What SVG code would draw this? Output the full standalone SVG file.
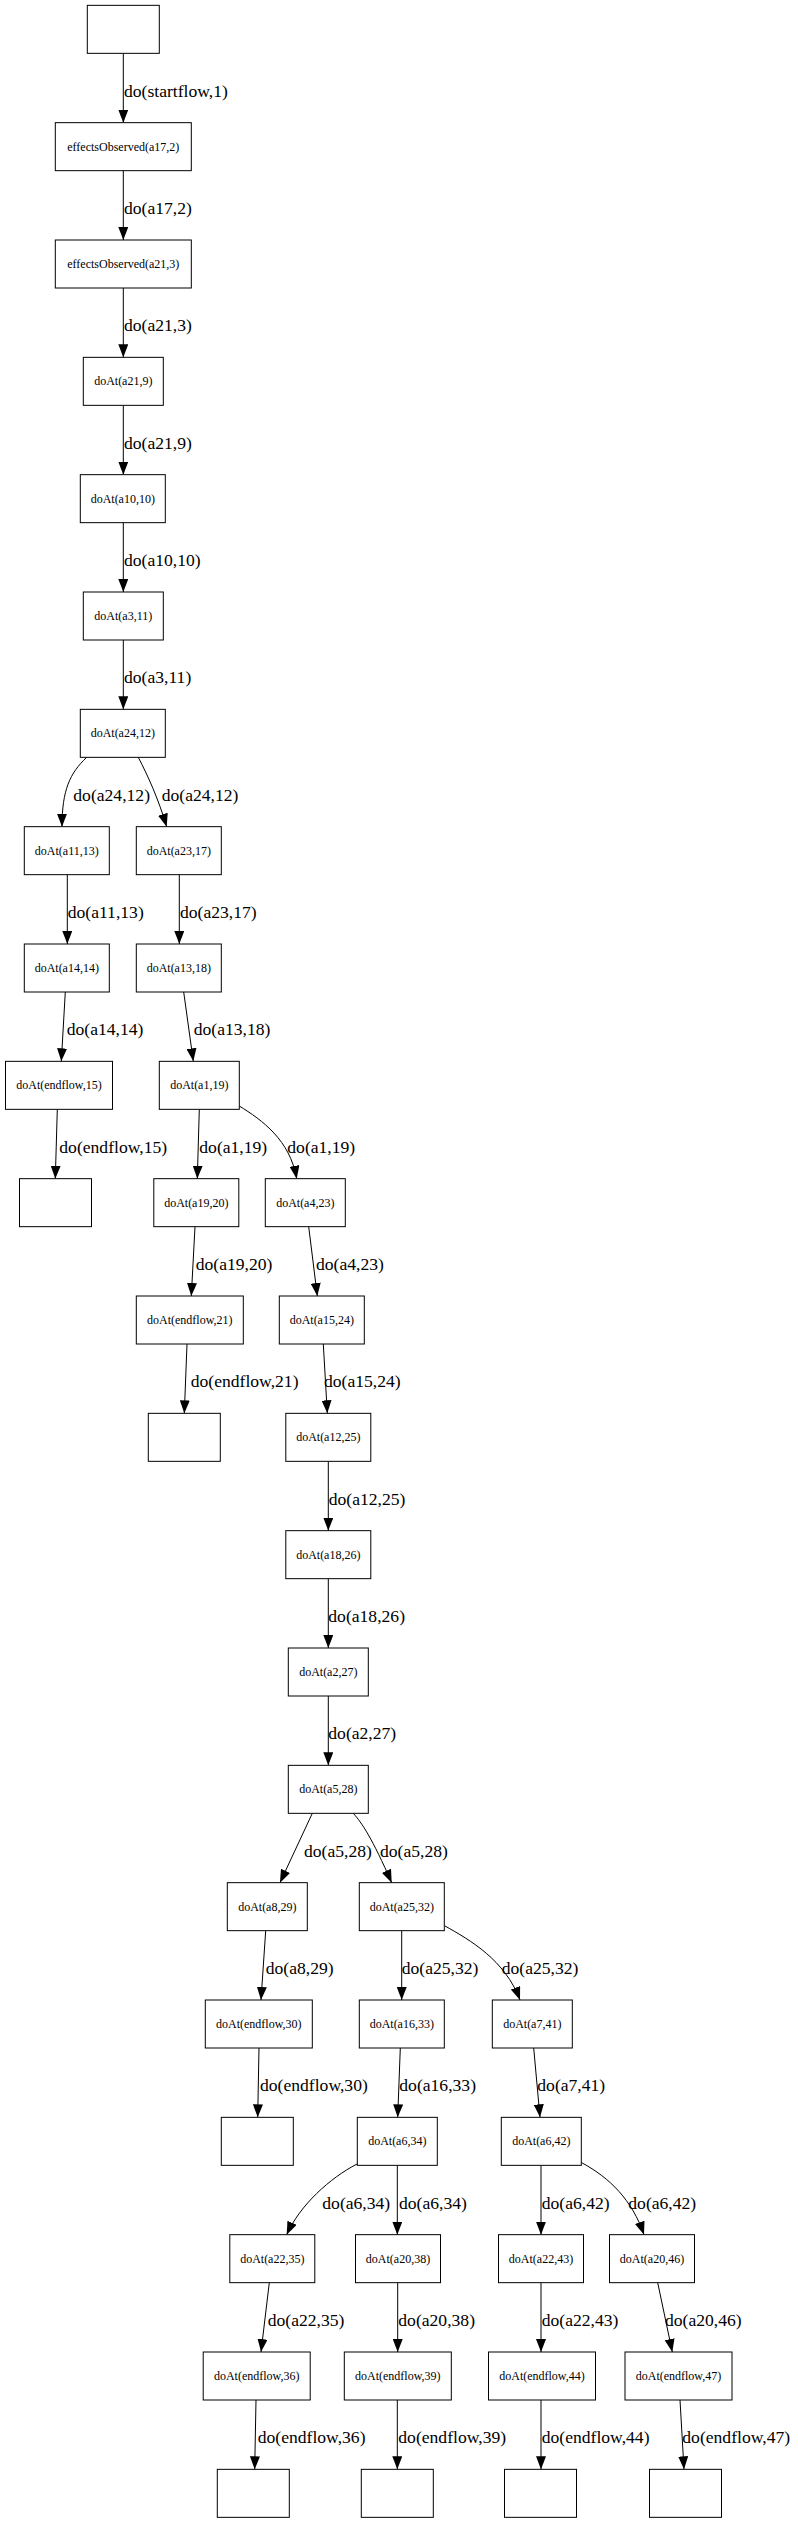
<svg xmlns="http://www.w3.org/2000/svg" width="798" height="2522" viewBox="0 0 798 2522">
<style>
.n rect{fill:#fff;stroke:#000;stroke-width:1}
.n text{font-family:"Liberation Serif","Times New Roman",serif;font-size:12px;text-anchor:middle;fill:#000}
#edges path{fill:none;stroke:#000;stroke-width:1;marker-end:url(#ah)}
#edges text{font-family:"Liberation Serif","Times New Roman",serif;font-size:17.6px;fill:#000}
</style>
<defs>
<marker id="ah" viewBox="0 0 13 10" refX="13" refY="5" markerWidth="13" markerHeight="10" orient="auto" markerUnits="userSpaceOnUse"><path d="M0,0 L13,5 L0,10 z" fill="#000"/></marker>
</defs>
<rect width="798" height="2522" fill="#fff"/>
<g id="edges">
<path d="M123.3,53.33 V122.67"/>
<path d="M123.3,170.67 V240"/>
<path d="M123.3,288 V357.33"/>
<path d="M123.3,405.33 V474.67"/>
<path d="M123.3,522.67 V592"/>
<path d="M123.3,640 V709.33"/>
<path d="M86.7,757.33 C70,773 62,790 62,826.67"/>
<path d="M138.3,757.33 C148,776 158,798 166.7,826.67"/>
<path d="M67.3,874.67 V944"/>
<path d="M179.3,874.67 V944"/>
<path d="M65.3,992 L61.3,1061.33"/>
<path d="M183.7,992 L193.3,1061.33"/>
<path d="M57.3,1109.33 L55.3,1178.67"/>
<path d="M199.3,1109.33 L197.3,1178.67"/>
<path d="M239.3,1106 C262,1120 290,1140 296.7,1178.67"/>
<path d="M195,1226.67 L191.3,1296"/>
<path d="M308.7,1226.67 L317.3,1296"/>
<path d="M187,1344 L184.3,1413.33"/>
<path d="M323.3,1344 L327.3,1413.33"/>
<path d="M328.3,1461.33 V1530.67"/>
<path d="M328.3,1578.67 V1648"/>
<path d="M328.3,1696 V1765.33"/>
<path d="M312.3,1813.33 L280,1882.67"/>
<path d="M353.3,1813.33 C362,1823 372,1838 391.7,1882.67"/>
<path d="M265.7,1930.67 L261,2000"/>
<path d="M401.7,1930.67 V2000"/>
<path d="M445,1926 C470,1940 505,1960 520,2000"/>
<path d="M259,2048 L257.7,2117.33"/>
<path d="M400.3,2048 L397.7,2117.33"/>
<path d="M533.7,2048 L540,2117.33"/>
<path d="M357,2164 C330,2178 300,2205 286.7,2234.67"/>
<path d="M397.3,2165.33 V2234.67"/>
<path d="M541,2165.33 V2234.67"/>
<path d="M581.7,2162.7 C610,2178 632,2200 644,2234.67"/>
<path d="M269.3,2282.67 L261,2352"/>
<path d="M397.7,2282.67 V2352"/>
<path d="M541,2282.67 V2352"/>
<path d="M657.7,2282.67 L672.3,2352"/>
<path d="M256,2400 L254.7,2469.33"/>
<path d="M397.3,2400 V2469.33"/>
<path d="M541,2400 V2469.33"/>
<path d="M680,2400 L684,2469.33"/>
<text x="124" y="96.7">do(startflow,1)</text>
<text x="124" y="214">do(a17,2)</text>
<text x="124" y="331.3">do(a21,3)</text>
<text x="124" y="448.7">do(a21,9)</text>
<text x="124" y="566">do(a10,10)</text>
<text x="124" y="683.3">do(a3,11)</text>
<text x="73.3" y="800.7">do(a24,12)</text>
<text x="161.7" y="800.7">do(a24,12)</text>
<text x="67.7" y="918">do(a11,13)</text>
<text x="180" y="918">do(a23,17)</text>
<text x="66.7" y="1035.3">do(a14,14)</text>
<text x="193.7" y="1035.3">do(a13,18)</text>
<text x="59.3" y="1152.7">do(endflow,15)</text>
<text x="199.3" y="1152.7">do(a1,19)</text>
<text x="287.3" y="1152.7">do(a1,19)</text>
<text x="195.7" y="1270">do(a19,20)</text>
<text x="316" y="1270">do(a4,23)</text>
<text x="190.7" y="1387.3">do(endflow,21)</text>
<text x="324" y="1387.3">do(a15,24)</text>
<text x="328.7" y="1504.7">do(a12,25)</text>
<text x="328.3" y="1622">do(a18,26)</text>
<text x="328.3" y="1739.3">do(a2,27)</text>
<text x="304" y="1856.7">do(a5,28)</text>
<text x="380" y="1856.7">do(a5,28)</text>
<text x="265.7" y="1974">do(a8,29)</text>
<text x="401.7" y="1974">do(a25,32)</text>
<text x="501.7" y="1974">do(a25,32)</text>
<text x="260" y="2091.3">do(endflow,30)</text>
<text x="399.3" y="2091.3">do(a16,33)</text>
<text x="537.3" y="2091.3">do(a7,41)</text>
<text x="322.3" y="2208.7">do(a6,34)</text>
<text x="399" y="2208.7">do(a6,34)</text>
<text x="541.7" y="2208.7">do(a6,42)</text>
<text x="628.3" y="2208.7">do(a6,42)</text>
<text x="267.7" y="2326">do(a22,35)</text>
<text x="398.3" y="2326">do(a20,38)</text>
<text x="541.7" y="2326">do(a22,43)</text>
<text x="665" y="2326">do(a20,46)</text>
<text x="257.7" y="2443.3">do(endflow,36)</text>
<text x="398.3" y="2443.3">do(endflow,39)</text>
<text x="541.7" y="2443.3">do(endflow,44)</text>
<text x="682.3" y="2443.3">do(endflow,47)</text>
</g>
<g id="n0" class="n"><rect x="87.3" y="5.33" width="72" height="48"/></g>
<g id="n1" class="n"><rect x="55.3" y="122.67" width="136" height="48"/><text x="123.3" y="150.7">effectsObserved(a17,2)</text></g>
<g id="n2" class="n"><rect x="55.3" y="240" width="136" height="48"/><text x="123.3" y="268">effectsObserved(a21,3)</text></g>
<g id="n3" class="n"><rect x="83.3" y="357.33" width="80" height="48"/><text x="123.3" y="385.3">doAt(a21,9)</text></g>
<g id="n4" class="n"><rect x="80.3" y="474.67" width="85" height="48"/><text x="122.8" y="502.7">doAt(a10,10)</text></g>
<g id="n5" class="n"><rect x="83.3" y="592" width="80" height="48"/><text x="123.3" y="620">doAt(a3,11)</text></g>
<g id="n6" class="n"><rect x="80.3" y="709.33" width="85" height="48"/><text x="122.8" y="737.3">doAt(a24,12)</text></g>
<g id="n7" class="n"><rect x="24.3" y="826.67" width="85" height="48"/><text x="66.8" y="854.7">doAt(a11,13)</text></g>
<g id="n8" class="n"><rect x="136.3" y="826.67" width="85" height="48"/><text x="178.8" y="854.7">doAt(a23,17)</text></g>
<g id="n9" class="n"><rect x="24.3" y="944" width="85" height="48"/><text x="66.8" y="972">doAt(a14,14)</text></g>
<g id="n10" class="n"><rect x="136.3" y="944" width="85" height="48"/><text x="178.8" y="972">doAt(a13,18)</text></g>
<g id="n11" class="n"><rect x="5.5" y="1061.33" width="107" height="48"/><text x="59" y="1089.3">doAt(endflow,15)</text></g>
<g id="n12" class="n"><rect x="159.3" y="1061.33" width="80" height="48"/><text x="199.3" y="1089.3">doAt(a1,19)</text></g>
<g id="n13" class="n"><rect x="19.5" y="1178.67" width="72" height="48"/></g>
<g id="n14" class="n"><rect x="153.8" y="1178.67" width="85" height="48"/><text x="196.3" y="1206.7">doAt(a19,20)</text></g>
<g id="n15" class="n"><rect x="265.3" y="1178.67" width="80" height="48"/><text x="305.3" y="1206.7">doAt(a4,23)</text></g>
<g id="n16" class="n"><rect x="136.3" y="1296" width="107" height="48"/><text x="189.8" y="1324">doAt(endflow,21)</text></g>
<g id="n17" class="n"><rect x="279.3" y="1296" width="85" height="48"/><text x="321.8" y="1324">doAt(a15,24)</text></g>
<g id="n18" class="n"><rect x="148.3" y="1413.33" width="72" height="48"/></g>
<g id="n19" class="n"><rect x="285.8" y="1413.33" width="85" height="48"/><text x="328.3" y="1441.3">doAt(a12,25)</text></g>
<g id="n20" class="n"><rect x="285.8" y="1530.67" width="85" height="48"/><text x="328.3" y="1558.7">doAt(a18,26)</text></g>
<g id="n21" class="n"><rect x="288.3" y="1648" width="80" height="48"/><text x="328.3" y="1676">doAt(a2,27)</text></g>
<g id="n22" class="n"><rect x="288.3" y="1765.33" width="80" height="48"/><text x="328.3" y="1793.3">doAt(a5,28)</text></g>
<g id="n23" class="n"><rect x="227.3" y="1882.67" width="80" height="48"/><text x="267.3" y="1910.7">doAt(a8,29)</text></g>
<g id="n24" class="n"><rect x="359.3" y="1882.67" width="85" height="48"/><text x="401.8" y="1910.7">doAt(a25,32)</text></g>
<g id="n25" class="n"><rect x="205.3" y="2000" width="107" height="48"/><text x="258.8" y="2028">doAt(endflow,30)</text></g>
<g id="n26" class="n"><rect x="359.3" y="2000" width="85" height="48"/><text x="401.8" y="2028">doAt(a16,33)</text></g>
<g id="n27" class="n"><rect x="492.3" y="2000" width="80" height="48"/><text x="532.3" y="2028">doAt(a7,41)</text></g>
<g id="n28" class="n"><rect x="221.3" y="2117.33" width="72" height="48"/></g>
<g id="n29" class="n"><rect x="357.3" y="2117.33" width="80" height="48"/><text x="397.3" y="2145.3">doAt(a6,34)</text></g>
<g id="n30" class="n"><rect x="501.3" y="2117.33" width="80" height="48"/><text x="541.3" y="2145.3">doAt(a6,42)</text></g>
<g id="n31" class="n"><rect x="229.8" y="2234.67" width="85" height="48"/><text x="272.3" y="2262.7">doAt(a22,35)</text></g>
<g id="n32" class="n"><rect x="355.5" y="2234.67" width="85" height="48"/><text x="398" y="2262.7">doAt(a20,38)</text></g>
<g id="n33" class="n"><rect x="498.5" y="2234.67" width="85" height="48"/><text x="541" y="2262.7">doAt(a22,43)</text></g>
<g id="n34" class="n"><rect x="609.5" y="2234.67" width="85" height="48"/><text x="652" y="2262.7">doAt(a20,46)</text></g>
<g id="n35" class="n"><rect x="203.2" y="2352" width="107" height="48"/><text x="256.7" y="2380">doAt(endflow,36)</text></g>
<g id="n36" class="n"><rect x="344.3" y="2352" width="107" height="48"/><text x="397.8" y="2380">doAt(endflow,39)</text></g>
<g id="n37" class="n"><rect x="488.5" y="2352" width="107" height="48"/><text x="542" y="2380">doAt(endflow,44)</text></g>
<g id="n38" class="n"><rect x="625" y="2352" width="107" height="48"/><text x="678.5" y="2380">doAt(endflow,47)</text></g>
<g id="n39" class="n"><rect x="217.3" y="2469.33" width="72" height="48"/></g>
<g id="n40" class="n"><rect x="361.3" y="2469.33" width="72" height="48"/></g>
<g id="n41" class="n"><rect x="504.5" y="2469.33" width="72" height="48"/></g>
<g id="n42" class="n"><rect x="649.5" y="2469.33" width="72" height="48"/></g>
</svg>
